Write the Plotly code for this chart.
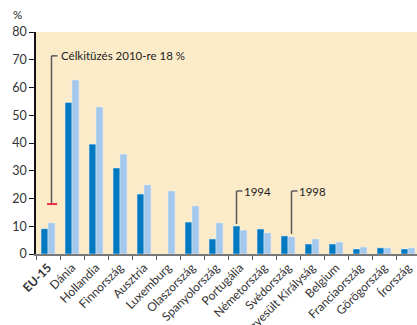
import plotly.graph_objects as go

categories = ["EU-15", "Dánia", "Hollandia", "Finnország", "Ausztria", "Luxemburg",
              "Olaszország", "Spanyolország", "Portugália", "Németország", "Svédország",
              "Egyesült Királyság", "Belgium", "Franciaország", "Görögország", "Írország"]
year_1994 = [9.1, 54.6, 39.6, 31.0, 21.6, None, 11.5, 5.4, 10.1, 9.0, 6.5, 3.6, 3.6, 1.8, 2.2, 1.8]
year_1998 = [11.2, 62.7, 53.0, 36.0, 24.9, 22.7, 17.3, 11.2, 8.6, 7.6, 6.2, 5.4, 4.3, 2.5, 2.2, 2.2]
tick_labels = ["<b>EU-15</b>"] + categories[1:]
y_ticks = [0, 10, 20, 30, 40, 50, 60, 70, 80]
target_2010 = 18
target_text = "Célkitüzés 2010-re 18 %"

DARK = "#0079C1"
LIGHT = "#A3C8EC"
FONT = "Lato, 'Open Sans', sans-serif"
LINE = "#5a5a5a"

idx = list(range(len(categories)))
fig = go.Figure()
fig.add_bar(x=idx, y=year_1994, marker_color=DARK, name="1994")
fig.add_bar(x=idx, y=year_1998, marker_color=LIGHT, name="1998")

shapes = []
annotations = []
off = 0.146  # bar centre offset in category units
top = 22.7

# target bracket (EU-15)
xe = idx[0] + off
shapes += [
    dict(type="line", xref="x", yref="y", x0=xe, x1=xe, y0=target_2010, y1=71.4,
         line=dict(color=LINE, width=1.5)),
    dict(type="line", xref="x", yref="y", x0=xe, x1=xe + 0.25, y0=71.4, y1=71.4,
         line=dict(color=LINE, width=1.5)),
    dict(type="line", xref="x", yref="y", x0=idx[0] - 0.04, x1=idx[0] + 0.38,
         y0=target_2010, y1=target_2010, line=dict(color="#E8334A", width=2)),
]
annotations.append(dict(x=xe + 0.33, y=71.4, xref="x", yref="y", text=target_text,
                        showarrow=False, xanchor="left", yanchor="middle",
                        font=dict(family=FONT, size=11.5, color="#222")))

# 1994 bracket (Portugália dark bar)
i = categories.index("Portugália")
x94 = i - off
shapes += [
    dict(type="line", xref="x", yref="y", x0=x94, x1=x94, y0=year_1994[i] + 0.7, y1=top,
         line=dict(color=LINE, width=1.5)),
    dict(type="line", xref="x", yref="y", x0=x94, x1=x94 + 0.25, y0=top, y1=top,
         line=dict(color=LINE, width=1.5)),
]
annotations.append(dict(x=x94 + 0.23, y=top, xref="x", yref="y", text="1994",
                        showarrow=False, xanchor="left", yanchor="middle",
                        font=dict(family=FONT, size=11.5, color="#222")))

# 1998 bracket (Svédország light bar)
j = categories.index("Svédország")
x98 = j + off
shapes += [
    dict(type="line", xref="x", yref="y", x0=x98, x1=x98, y0=year_1998[j] + 1.0, y1=top,
         line=dict(color=LINE, width=1.5)),
    dict(type="line", xref="x", yref="y", x0=x98, x1=x98 + 0.25, y0=top, y1=top,
         line=dict(color=LINE, width=1.5)),
]
annotations.append(dict(x=x98 + 0.23, y=top, xref="x", yref="y", text="1998",
                        showarrow=False, xanchor="left", yanchor="middle",
                        font=dict(family=FONT, size=11.5, color="#222")))

annotations.append(dict(x=0, y=1, xref="paper", yref="paper", text="%", showarrow=False,
                        xanchor="center", yanchor="bottom", xshift=-19, yshift=9,
                        font=dict(family=FONT, size=11.5, color="#222")))

fig.update_layout(
    width=417, height=325,
    margin=dict(l=36, r=0, t=32, b=71),
    paper_bgcolor="white", plot_bgcolor="#FCEBC8",
    barmode="group", bargap=0.42, bargroupgap=0,
    showlegend=False,
    shapes=shapes, annotations=annotations,
    font=dict(family=FONT, size=12, color="#222"),
)
fig.update_xaxes(
    type="linear", range=[-0.5, 15.375], automargin=False,
    tickmode="array", tickvals=idx, ticktext=tick_labels, tickangle=-45,
    showgrid=False, zeroline=False,
    showline=True, linecolor="#7a7a7a", linewidth=2,
    ticks="", tickfont=dict(family=FONT, size=12, color="#333"),
)
fig.update_xaxes(minor=dict(tickmode="linear", tick0=-0.5, dtick=1,
                            ticks="outside", ticklen=4, tickcolor="#555", tickwidth=1.2,
                            showgrid=False))
fig.update_yaxes(
    range=[0, 80], tickvals=y_ticks, showgrid=False, zeroline=False, automargin=False,
    showline=True, linecolor="#111", linewidth=1.5,
    ticks="outside", ticklen=5, tickcolor="#111", tickwidth=1.2,
    tickfont=dict(family=FONT, size=12.5, color="#333"),
)
fig.write_html("out.html")
